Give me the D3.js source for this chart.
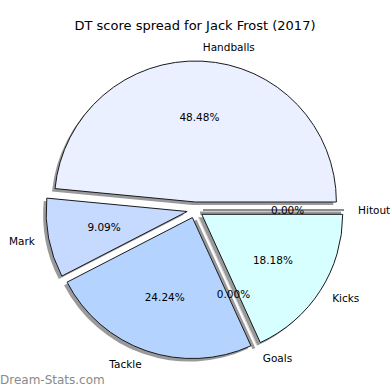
<!DOCTYPE html>
<html>
<head>
<meta charset="utf-8">
<script src="https://cdn.jsdelivr.net/npm/d3@7"></script>
<style>
  body { margin: 0; background: #fff; }
  svg { font-family: "DejaVu Sans", sans-serif; }
</style>
</head>
<body>
<svg id="chart"></svg>
<script>
// data, in matplotlib order (counter-clockwise from 3 o'clock)
const categories = ["Hitout", "Handballs", "Mark", "Tackle", "Goals", "Kicks"];
const counts = [0, 16, 3, 8, 0, 6];
const colors = ["#ffffff", "#eaf0ff", "#c6d9ff", "#b4d4ff", "#ffffff", "#d8ffff"];

const width = 390, height = 390;
const cx = 195, cy = 210, radius = 141;
const explode = 8;             // pixels each wedge is pushed out
const shadowDx = -3, shadowDy = 3;

const svg = d3.select("#chart")
    .attr("width", width)
    .attr("height", height);

// title
svg.append("text")
    .attr("x", 195)
    .attr("y", 30)
    .attr("text-anchor", "middle")
    .attr("font-size", "13px")
    .text("DT score spread for Jack Frost (2017)");

const total = d3.sum(counts);
const slices = counts.map((v, i) => ({ name: categories[i], value: v, color: colors[i] }));

// counter-clockwise starting at 3 o'clock
const pie = d3.pie()
    .sort(null)
    .value(d => d.value)
    .startAngle(Math.PI / 2)
    .endAngle(Math.PI / 2 - 2 * Math.PI);

const arcs = pie(slices);
const arc = d3.arc().innerRadius(0).outerRadius(radius);

arcs.forEach(a => {
    const mid = (a.startAngle + a.endAngle) / 2;
    a.dx = Math.sin(mid);
    a.dy = -Math.cos(mid);
    a.ox = cx + explode * a.dx;
    a.oy = cy + explode * a.dy;
});

const g = svg.append("g");

function wedgePath(a) {
    if (a.value === 0) {
        return "M0,0L" + (radius * a.dx) + "," + (radius * a.dy);
    }
    return arc(a);
}

// shadows first, below everything
g.selectAll("path.shadow")
    .data(arcs)
    .enter()
    .append("path")
    .attr("class", "shadow")
    .attr("transform", d => `translate(${d.ox + shadowDx},${d.oy + shadowDy})`)
    .attr("d", wedgePath)
    .attr("fill", d => d.value === 0 ? "none" : "#9a9a9c")
    .attr("stroke", "#9a9a9c")
    .attr("stroke-width", d => d.value === 0 ? 3 : 0);

// wedges
g.selectAll("path.wedge")
    .data(arcs)
    .enter()
    .append("path")
    .attr("class", "wedge")
    .attr("transform", d => `translate(${d.ox},${d.oy})`)
    .attr("d", wedgePath)
    .attr("fill", d => d.value === 0 ? "none" : d.data.color)
    .attr("stroke", d => d.data.name === "Goals" ? "#d0d0d0" : "#1a1a1a")
    .attr("stroke-width", 1)
    .attr("stroke-linejoin", "round");

// category labels at 1.1 * radius
g.selectAll("text.label")
    .data(arcs)
    .enter()
    .append("text")
    .attr("class", "label")
    .attr("x", d => d.ox + 1.1 * radius * d.dx)
    .attr("y", d => d.oy + 1.1 * radius * d.dy)
    .attr("dy", "0.35em")
    .attr("text-anchor", d => d.dx > 0 ? "start" : "end")
    .attr("font-size", "10.5px")
    .text(d => d.data.name);

// percentages at 0.6 * radius
g.selectAll("text.pct")
    .data(arcs)
    .enter()
    .append("text")
    .attr("class", "pct")
    .attr("x", d => d.ox + 0.6 * radius * d.dx)
    .attr("y", d => d.oy + 0.6 * radius * d.dy)
    .attr("dy", "0.35em")
    .attr("text-anchor", "middle")
    .attr("font-size", "10.5px")
    .text(d => (100 * d.value / total).toFixed(2) + "%");

// watermark
svg.append("text")
    .attr("x", 0)
    .attr("y", 384)
    .attr("font-size", "12px")
    .attr("fill", "#8a8a8a")
    .text("Dream-Stats.com");
</script>
</body>
</html>
